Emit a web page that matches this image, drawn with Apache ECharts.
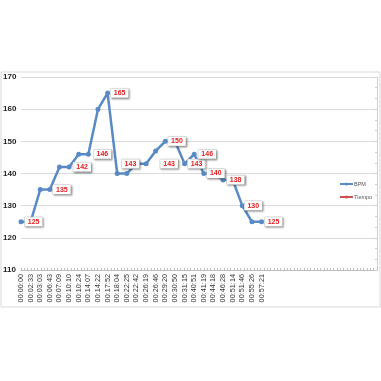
<!DOCTYPE html>
<html><head><meta charset="utf-8">
<script src="https://cdn.jsdelivr.net/npm/echarts@6/dist/echarts.min.js"></script>
<style>html,body{margin:0;padding:0;background:#fff}#c{width:381px;height:381px}</style>
</head><body><div id="c"></div>
<script>
const categories = ['00:00:00','00:02:33','00:03:03','00:06:43','00:07:09','00:10:10','00:10:24','00:14:07','00:14:22','00:17:52','00:18:04','00:22:25','00:22:42','00:26:19','00:26:46','00:29:20','00:30:50','00:31:15','00:40:51','00:41:19','00:44:18','00:46:28','00:51:14','00:51:46','00:55:26','00:57:21'];
const bpm = [125,125,135,135,142,142,146,146,160,165,140,140,143,143,147,150,150,143,146,140,140,138,138,130,125,125];
const labelledIdx = [1,3,5,7,9,12,13,16,17,18,19,22,23,25];
const yTicks = [110,120,130,140,150,160,170];

const labelDx = {1:3,3:12,5:13,7:14,9:12,12:-6,13:23,16:2,17:12,18:13,19:12,22:3,23:11,25:12};
const padCount = 12;
const cats = categories.concat(Array(padCount).fill(''));
const data = bpm.map((v,i)=> labelledIdx.includes(i) ? {value:v,label:{show:true,offset:[labelDx[i],0]}} : v);
const minorCats = Array(108).fill('');

const chart = echarts.init(document.getElementById('c'));
chart.setOption({
  animation:false,
  graphic:[{type:'rect',shape:{x:1,y:72,width:379,height:235},style:{fill:'none',stroke:'#d9d9d9',lineWidth:1},z:-1}],
  grid:{left:20,right:4,top:77,bottom:111},
  legend:{orient:'vertical',left:339,top:181,itemWidth:13,itemHeight:4,itemGap:7,padding:0,
    textStyle:{fontSize:5.5,color:'#555',fontFamily:'Liberation Sans',padding:[0,0,0,-4]},
    data:['BPM','Tiempo']},
  xAxis:[{type:'category',data:cats,boundaryGap:false,
    axisLine:{lineStyle:{color:'#bfbfbf'}},axisTick:{show:false},
    axisLabel:{rotate:90,fontSize:7.3,color:'#333',interval:0,margin:4,fontFamily:'Liberation Sans'},
    splitLine:{show:false}},
   {type:'category',data:minorCats,boundaryGap:false,position:'bottom',
    axisLine:{show:false},axisTick:{show:true,interval:0,length:2,inside:true,lineStyle:{color:'#bfbfbf'}},
    axisLabel:{show:false}}],
  yAxis:[{type:'value',min:110,max:170,interval:10,
    axisLine:{show:false},axisTick:{show:false},
    axisLabel:{fontSize:8,color:'#222',fontWeight:'bold',align:'left',margin:18,fontFamily:'Liberation Sans',
      formatter:v=>yTicks.includes(v)?String(v):''},
    splitLine:{lineStyle:{color:'#d9d9d9',width:1}}},
   {type:'value',min:110,max:170,interval:10,position:'right',
    axisLine:{show:true,lineStyle:{color:'#d0d0d0'}},axisTick:{show:true,inside:true,length:3,lineStyle:{color:'#d0d0d0'}},
    minorTick:{show:true,splitNumber:3,length:2,lineStyle:{color:'#d0d0d0'}},
    axisLabel:{show:false},splitLine:{show:false}}],
  series:[{name:'BPM',type:'line',data:data,symbol:'circle',symbolSize:5,
    itemStyle:{color:'#5a8ac6'},lineStyle:{color:'#5a8ac6',width:2.5},
    label:{show:false,position:'inside',color:'#e02020',fontWeight:'bold',fontSize:7,fontFamily:'Liberation Sans',
      backgroundColor:'#fff',borderColor:'#c8c8c8',borderWidth:0.5,padding:[1,3],
      shadowColor:'rgba(0,0,0,0.35)',shadowBlur:2,shadowOffsetX:1,shadowOffsetY:1,
      formatter:p=>String(p.value)},
    z:3},
   {name:'Tiempo',type:'line',data:[],symbol:'circle',symbolSize:4,
    itemStyle:{color:'#d05050'},lineStyle:{color:'#d05050',width:2}}]
});
</script></body></html>
